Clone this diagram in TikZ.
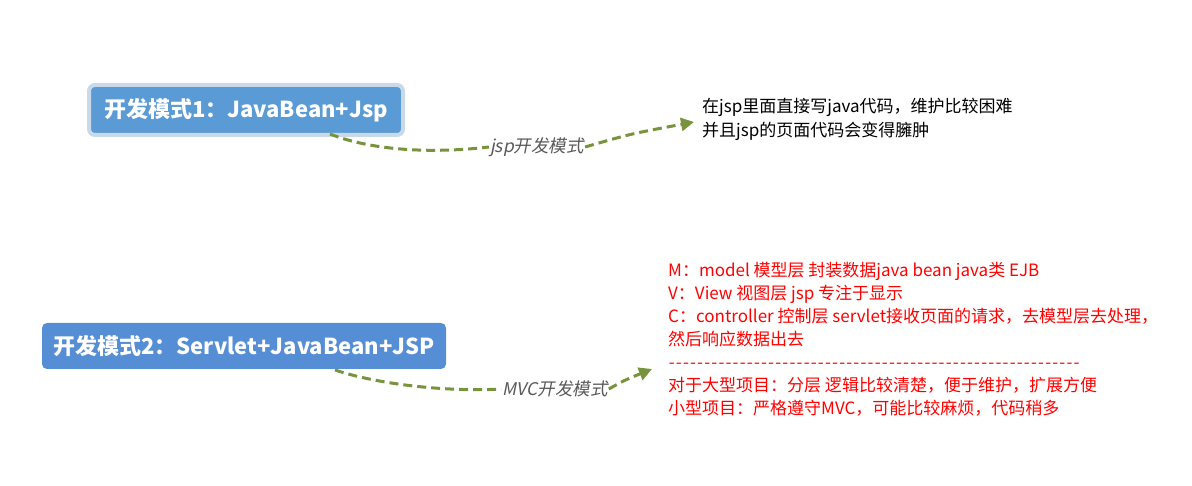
\documentclass[tikz,border=0pt]{standalone}
\usepackage{fontspec}
\setmainfont{Noto Sans CJK SC}
\newfontfamily\cjkit[FakeSlant=0.2]{Noto Sans CJK SC}
\usetikzlibrary{arrows.meta}
\definecolor{boxblueA}{HTML}{5B9BD5}
\definecolor{boxblueB}{HTML}{568ED6}
\definecolor{boxrim}{HTML}{C9D9EA}
\definecolor{conngreen}{HTML}{77933C}
\definecolor{labgray}{HTML}{595959}
\newcommand\dashrow{\hbox to 412pt{\xleaders\hbox{\kern0.6pt-\kern0.6pt}\hfill}}
\tikzset{
  titlebox/.style={rounded corners=5pt, text=white, font=\fontsize{22}{26}\selectfont\bfseries, inner xsep=10pt, inner ysep=0pt, anchor=center},
  conn/.style={draw=conngreen, line width=3pt, dash pattern=on 9pt off 5pt},
  connarrow/.style={conn, -{Triangle[length=13pt,width=13pt]}},
  connlab/.style={text=labgray, font=\fontsize{17.5}{20}\cjkit, fill=white, inner sep=1pt},
  blacktext/.style={anchor=north west, align=left, font=\fontsize{17}{24}\selectfont, inner sep=0pt},
  redtext/.style={anchor=north west, align=left, text=red, font=\fontsize{17}{23}\selectfont, inner sep=0pt},
}
\begin{document}
\begin{tikzpicture}[x=1pt,y=-1pt]
\useasboundingbox (0,0) rectangle (1192,486);
% node 1
\node[draw=boxrim, line width=4pt, fill=boxblueA, rounded corners=6pt, minimum width=314pt, minimum height=50pt] (n1rim) at (246,110) {};
\node[titlebox, fill=boxblueA, minimum width=308pt, minimum height=44pt] (n1) at (246,110) {开发模式1：JavaBean+Jsp};
% node 2
\node[titlebox, fill=boxblueB, minimum width=404pt, minimum height=46pt] (n2) at (244,346) {开发模式2：Servlet+JavaBean+JSP};
% texts
\node[blacktext] (t1) at (702,98) {在jsp里面直接写java代码，维护比较困难\\并且jsp的页面代码会变得臃肿};
\node[redtext] (t2) at (668,262) {M：model 模型层 封装数据java bean java类 EJB\\V：View 视图层 jsp 专注于显示\\C：controller 控制层 servlet接收页面的请求，去模型层去处理，\\然后响应数据出去\\\dashrow\\对于大型项目：分层 逻辑比较清楚，便于维护，扩展方便\\小型项目：严格遵守MVC，可能比较麻烦，代码稍多};
% labels
\node[connlab] (l1) at (537,147) {jsp开发模式};
\node[connlab] (l2) at (555,389) {MVC开发模式};
% connector ends
\coordinate (s1) at (330,134);
\coordinate (e1) at (694,122);
\coordinate (s2) at (335,370);
\coordinate (e2) at (652,369);
\draw[conn] (s1) .. controls (370,150) and (430,154) .. (l1.west);
\draw[connarrow] (l1.east) .. controls (630,134) .. (e1);
\draw[conn] (s2) .. controls (380,385) and (450,392) .. (l2.west);
\draw[connarrow] (l2.east) .. controls (625,380) .. (e2);
\end{tikzpicture}
\end{document}
